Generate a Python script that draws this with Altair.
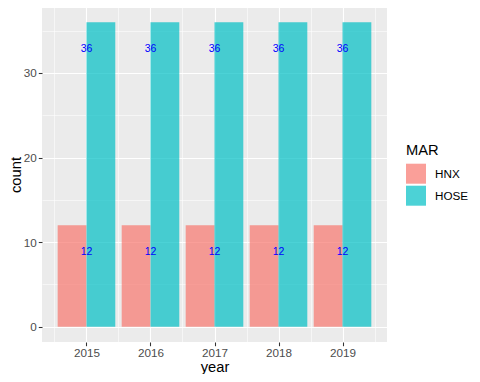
import altair as alt
import pandas as pd

years = [2015, 2016, 2017, 2018, 2019]
hnx_counts = [12, 12, 12, 12, 12]
hose_counts = [36, 36, 36, 36, 36]
markets = ["HNX", "HOSE"]
colors = ["#F8766D", "#00BFC4"]
x_major = [2015, 2016, 2017, 2018, 2019]
x_minor = [2014.5, 2015.5, 2016.5, 2017.5, 2018.5, 2019.5]
y_major = [0, 10, 20, 30]
y_minor = [5, 15, 25, 35]

rows = []
for y, a, b in zip(years, hnx_counts, hose_counts):
    rows.append({"year": y, "MAR": "HNX", "count": a})
    rows.append({"year": y, "MAR": "HOSE", "count": b})
df = pd.DataFrame(rows)

FONT = "Liberation Sans"
xscale = alt.Scale(domain=[2014.305, 2019.695], nice=False, zero=False, padding=0)
yscale = alt.Scale(domain=[-1.8, 37.8], nice=False, zero=False, padding=0)

base = alt.Chart(df).transform_calculate(
    x1="datum.year - 0.45 + (datum.MAR == 'HOSE' ? 0.45 : 0)",
    x2="datum.year + (datum.MAR == 'HOSE' ? 0.45 : 0)",
)

minor = base.mark_bar(opacity=0).encode(
    x=alt.X("x1:Q", scale=xscale, axis=alt.Axis(values=x_minor, grid=True, gridColor="white",
                                                gridWidth=0.55, labels=False, ticks=False,
                                                domain=False, title=None, orient="top")),
    x2="x2:Q",
    y=alt.Y("count:Q", scale=yscale, axis=alt.Axis(values=y_minor, grid=True, gridColor="white",
                                                  gridWidth=0.55, labels=False, ticks=False,
                                                  domain=False, title=None, orient="right")),
)

bars = base.mark_bar(opacity=0.7).encode(
    x=alt.X("x1:Q", scale=xscale, title="year",
            axis=alt.Axis(values=x_major, format="d", grid=True, gridColor="white", gridWidth=1.1,
                          domain=False, ticks=True, tickColor="#333333", tickSize=3.7, tickWidth=1.07,
                          labelColor="#4D4D4D", labelFontSize=11.7, labelFont=FONT, labelPadding=2,
                          titleFont=FONT, titleFontSize=14.7, titleFontWeight="normal",
                          titleColor="black", titlePadding=0, orient="bottom")),
    x2="x2:Q",
    y=alt.Y("count:Q", scale=yscale, title="count",
            axis=alt.Axis(values=y_major, grid=True, gridColor="white", gridWidth=1.1,
                          domain=False, ticks=True, tickColor="#333333", tickSize=3.7, tickWidth=1.07,
                          labelColor="#4D4D4D", labelFontSize=11.7, labelFont=FONT, labelPadding=2,
                          titleFont=FONT, titleFontSize=14.7, titleFontWeight="normal",
                          titleColor="black", titleX=-26, titleBaseline="middle", orient="left")),
    y2=alt.datum(0),
    color=alt.Color("MAR:N", scale=alt.Scale(domain=markets, range=colors),
                    legend=alt.Legend(title="MAR", orient="none", legendX=364, legendY=136,
                                      symbolType="square", symbolSize=400, symbolOpacity=0.7,
                                      symbolStrokeWidth=0, titleFont=FONT, titleFontSize=14.7,
                                      titleFontWeight="normal", titleColor="black", titlePadding=6,
                                      labelFont=FONT, labelFontSize=11.7, labelColor="black",
                                      labelOffset=9, rowPadding=2, padding=0)),
)

labels = base.mark_text(color="blue", fontSize=10.5, font=FONT, baseline="middle", dy=27).encode(
    x=alt.X("year:Q", scale=xscale, axis=None),
    y=alt.Y("count:Q", scale=yscale, axis=None),
    text="count:Q",
)

chart = alt.layer(minor, bars, labels).resolve_axis(x="independent", y="independent").properties(
    width=345, height=335,
    autosize=alt.AutoSizeParams(type="none"),
    padding={"left": 34, "top": -1, "right": 85, "bottom": 32},
    background="white",
).configure_view(fill="#EBEBEB", stroke=None)

chart.save("out.html", embed_options={"renderer": "svg", "actions": False})
